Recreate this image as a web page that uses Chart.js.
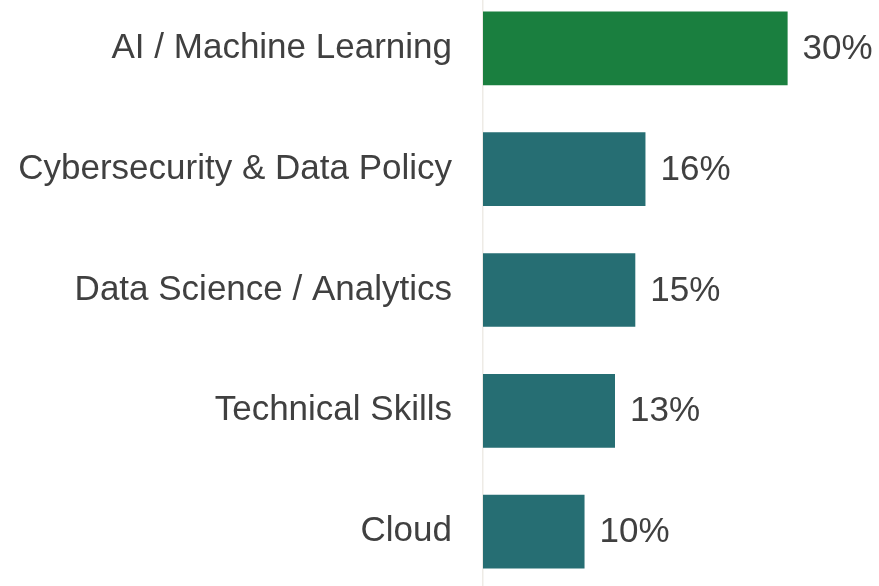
<!DOCTYPE html>
<html>
<head>
<meta charset="utf-8">
<script src="https://cdn.jsdelivr.net/npm/chart.js@4.4.0/dist/chart.umd.min.js"></script>
<style>
  html, body { margin: 0; padding: 0; background: #fff; overflow: hidden; }
  #bar-chart { position: absolute; left: 0; top: -64px; }
</style>
</head>
<body>
<canvas id="bar-chart" width="879" height="708"></canvas>
<script>
const categories = ["AI / Machine Learning", "Cybersecurity & Data Policy", "Data Science / Analytics", "Technical Skills", "Cloud"];
const shares = [30, 16, 15, 13, 10];
const barColors = ["#1a7f3f", "#266e73", "#266e73", "#266e73", "#266e73"];

const textColor = "#404040";
const fontFamily = "'Liberation Sans', Arial, sans-serif";

// draw the % label just past the end of each bar
const valueLabels = {
  id: "valueLabels",
  afterDatasetsDraw(chart) {
    const ctx = chart.ctx;
    const meta = chart.getDatasetMeta(0);
    ctx.save();
    ctx.font = "35px " + fontFamily;
    ctx.fillStyle = textColor;
    ctx.textAlign = "left";
    ctx.textBaseline = "middle";
    meta.data.forEach((bar, i) => {
      ctx.fillText(shares[i] + "%", bar.x + 15, bar.y + 1);
    });
    ctx.restore();
  }
};

const config = {
  type: "bar",
  data: {
    labels: categories,
    datasets: [{
      data: shares,
      backgroundColor: barColors,
      borderWidth: 0,
      categoryPercentage: 1,
      barPercentage: 0.61
    }]
  },
  options: {
    indexAxis: "y",
    responsive: false,
    animation: false,
    layout: { padding: 0 },
    plugins: {
      legend: { display: false },
      tooltip: { enabled: false }
    },
    scales: {
      x: {
        display: false,
        min: 0,
        max: 39
      },
      y: {
        afterFit(scale) { scale.width = 483; },
        grid: { display: false, drawTicks: false },
        border: { display: true, color: "#eeebe6", width: 1.5 },
        ticks: {
          padding: 31,
          color: textColor,
          font: { family: fontFamily, size: 35 }
        }
      }
    }
  },
  plugins: [valueLabels]
};

new Chart(document.getElementById("bar-chart").getContext("2d"), config);
</script>
</body>
</html>
